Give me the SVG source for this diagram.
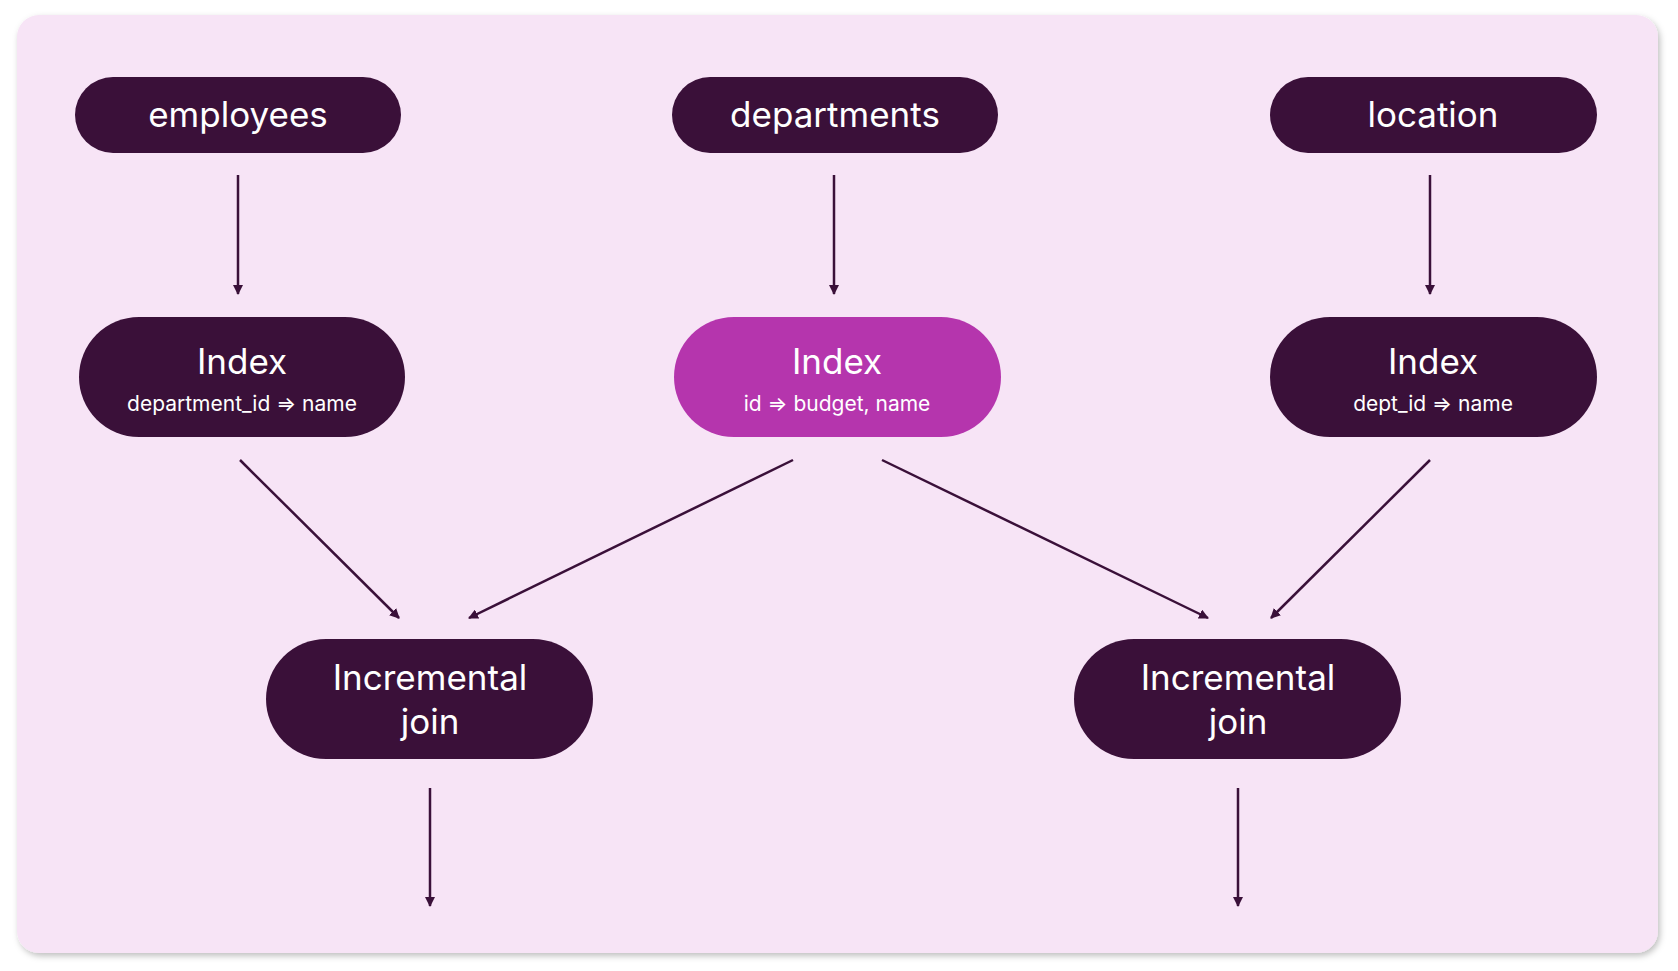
<svg xmlns="http://www.w3.org/2000/svg" width="1678" height="971" viewBox="0 0 1678 971">
<defs>
<filter id="sh" x="-5%" y="-5%" width="110%" height="110%"><feDropShadow dx="2" dy="3" stdDeviation="3" flood-color="#000" flood-opacity="0.25"/></filter>
<marker id="ah" markerWidth="10" markerHeight="10" refX="9" refY="5" orient="auto" markerUnits="userSpaceOnUse" viewBox="0 0 10 10"><path d="M0,0 L10,5 L0,10 z" fill="#3a1039"/></marker>
<style>
.n{fill:#3a1039}.h{fill:#b535ad}
text{font-family:Inter,"Noto Sans",sans-serif;fill:#fff;text-anchor:middle}
.t{font-size:35px}.s{font-size:21px}
.c line{stroke:#3a1039;stroke-width:2.5;marker-end:url(#ah)}
</style>
</defs>
<rect width="1678" height="971" fill="#fff"/>
<rect x="17" y="15" width="1641" height="938" rx="22" fill="#f7e4f6" filter="url(#sh)"/>
<g id="employees"><rect class="n" x="75" y="77" width="326" height="76" rx="38"/><text class="t" x="238" y="127">employees</text></g>
<g id="departments"><rect class="n" x="672" y="77" width="326" height="76" rx="38"/><text class="t" x="835" y="127">departments</text></g>
<g id="location"><rect class="n" x="1270" y="77" width="327" height="76" rx="38"/><text class="t" x="1433" y="127">location</text></g>
<g id="index1"><rect class="n" x="79" y="317" width="326" height="120" rx="60"/><text class="t" x="242" y="374">Index</text><text class="s" x="242" y="411">department_id =&gt; name</text></g>
<g id="index2"><rect class="h" x="674" y="317" width="327" height="120" rx="60"/><text class="t" x="837" y="374">Index</text><text class="s" x="837" y="411">id =&gt; budget, name</text></g>
<g id="index3"><rect class="n" x="1270" y="317" width="327" height="120" rx="60"/><text class="t" x="1433" y="374">Index</text><text class="s" x="1433" y="411">dept_id =&gt; name</text></g>
<g id="join1"><rect class="n" x="266" y="639" width="327" height="120" rx="60"/><text class="t" x="430" y="690">Incremental</text><text class="t" x="430" y="734">join</text></g>
<g id="join2"><rect class="n" x="1074" y="639" width="327" height="120" rx="60"/><text class="t" x="1238" y="690">Incremental</text><text class="t" x="1238" y="734">join</text></g>
<g class="c" id="connectors">
<line x1="238" y1="175" x2="238" y2="294"/>
<line x1="834" y1="175" x2="834" y2="294"/>
<line x1="1430" y1="175" x2="1430" y2="294"/>
<line x1="240" y1="460" x2="399" y2="618"/>
<line x1="793" y1="460" x2="469" y2="618"/>
<line x1="882" y1="460" x2="1208" y2="618"/>
<line x1="1430" y1="460" x2="1271" y2="618"/>
<line x1="430" y1="788" x2="430" y2="906"/>
<line x1="1238" y1="788" x2="1238" y2="906"/>
</g>
</svg>
